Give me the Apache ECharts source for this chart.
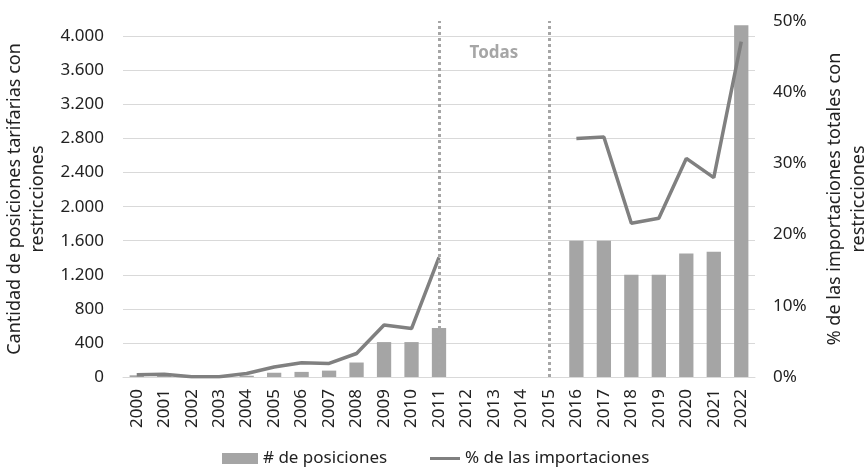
<!DOCTYPE html>
<html>
<head>
<meta charset="utf-8">
<script src="https://cdn.jsdelivr.net/npm/echarts@6/dist/echarts.min.js"></script>
<style>
  html, body { margin: 0; padding: 0; background: #fff; }
  #main { width: 866px; height: 471px; }
</style>
</head>
<body>
<div id="main"></div>
<script>
// años
var years = ['2000','2001','2002','2003','2004','2005','2006','2007','2008','2009','2010','2011',
             '2012','2013','2014','2015','2016','2017','2018','2019','2020','2021','2022'];
// cantidad de posiciones con restricciones
var posiciones = [20, 25, 5, 5, 15, 50, 60, 75, 170, 410, 410, 575,
                  null, null, null, null, 1600, 1600, 1200, 1200, 1450, 1470, 4130];
// % de las importaciones totales
var importaciones = [0.3, 0.4, 0.05, 0.05, 0.5, 1.4, 2.0, 1.9, 3.3, 7.3, 6.8, 16.8,
                     null, null, null, null, 33.5, 33.7, 21.6, 22.3, 30.7, 28.0, 47.1];
var cortes = ['2011', '2015'];

var fontFam = '"Noto Sans", sans-serif';
var txt = '#222';
var chart = echarts.init(document.getElementById('main'));
chart.setOption({
  animation: false,
  textStyle: { fontFamily: fontFam },
  grid: { left: 123, right: 111, top: 21, bottom: 94, outerBoundsMode: 'none' },
  legend: [
    {
      left: 222, top: 450, padding: 0,
      itemWidth: 36, itemHeight: 11, itemGap: 0,
      icon: 'rect',
      textStyle: { fontSize: 17, color: txt, fontFamily: fontFam },
      data: ['# de posiciones']
    },
    {
      left: 430, top: 450, padding: 0,
      itemWidth: 30, itemHeight: 3, itemGap: 0,
      icon: 'rect',
      textStyle: { fontSize: 17, color: txt, fontFamily: fontFam },
      data: ['% de las importaciones']
    }
  ],
  xAxis: {
    type: 'category',
    data: years,
    axisTick: { show: false },
    axisLine: { lineStyle: { color: '#d9d9d9', width: 1 } },
    axisLabel: { rotate: 90, interval: 0, fontSize: 17, color: txt, margin: 12, fontFamily: fontFam }
  },
  yAxis: [
    {
      type: 'value',
      min: 0,
      max: 4180,
      interval: 400,
      name: 'Cantidad de posiciones tarifarias con\nrestricciones',
      nameLocation: 'middle',
      nameGap: 71,
      nameTextStyle: { fontSize: 18, color: txt, lineHeight: 23, fontFamily: fontFam },
      axisLine: { show: false },
      axisTick: { show: false },
      axisLabel: {
        fontSize: 17, color: txt, margin: 19, showMaxLabel: false,
        formatter: function (v) { return v.toLocaleString('de-DE'); }
      },
      splitLine: { showMaxLine: false, lineStyle: { color: '#d9d9d9' } }
    },
    {
      type: 'value',
      min: 0,
      max: 50,
      interval: 10,
      name: '% de las importaciones totales con\nrestricciones',
      nameLocation: 'middle',
      nameRotate: 90,
      nameGap: 68,
      nameTextStyle: { fontSize: 18, color: txt, lineHeight: 24, fontFamily: fontFam },
      axisLine: { show: false },
      axisTick: { show: false },
      axisLabel: { fontSize: 17, color: txt, margin: 18, formatter: '{value}%' },
      splitLine: { show: false }
    }
  ],
  series: [
    {
      name: '# de posiciones',
      type: 'bar',
      yAxisIndex: 0,
      barWidth: '52%',
      itemStyle: { color: '#a5a5a5' },
      data: posiciones,
      markLine: {
        silent: true,
        symbol: 'none',
        label: { show: false },
        lineStyle: { type: [3, 3], width: 3, color: '#a6a6a6' },
        data: cortes.map(function (c) { return { xAxis: c }; })
      },
      markArea: {
        silent: true,
        itemStyle: { color: 'rgba(0,0,0,0)' },
        label: {
          show: true, position: 'insideTop', distance: 24,
          fontSize: 17, fontWeight: 'bold', color: '#a6a6a6', fontFamily: fontFam
        },
        data: [[{ name: 'Todas', xAxis: cortes[0] }, { xAxis: cortes[1] }]]
      }
    },
    {
      name: '% de las importaciones',
      type: 'line',
      yAxisIndex: 1,
      symbol: 'none',
      connectNulls: false,
      lineStyle: { color: '#808080', width: 3.5 },
      itemStyle: { color: '#808080' },
      data: importaciones
    }
  ]
});
</script>
</body>
</html>
